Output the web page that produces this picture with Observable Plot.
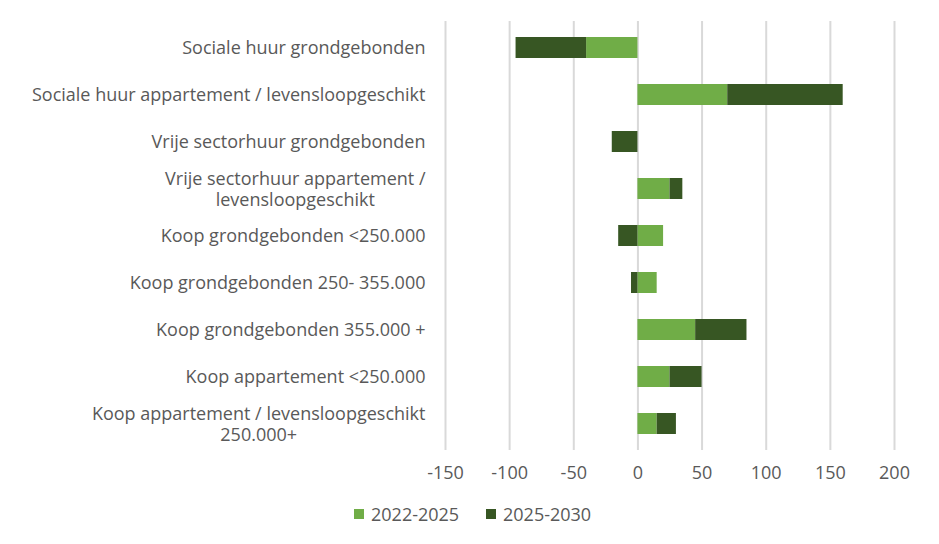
<!DOCTYPE html>
<html>
<head>
<meta charset="utf-8">
<script src="https://cdn.jsdelivr.net/npm/d3@7"></script>
<script src="https://cdn.jsdelivr.net/npm/@observablehq/plot@0.6"></script>
<style>
  html, body { margin: 0; padding: 0; background: #fff; }
  body { width: 939px; height: 544px; position: relative; overflow: hidden; font-family: "Open Sans", sans-serif; }
  #chart { position: absolute; left: 0; top: 0; }
  #legend { position: absolute; left: 0; top: 501px; width: 939px; height: 26px; color: #595959; font-size: 18px; }
  .item { position: absolute; top: 0; display: flex; align-items: center; height: 26px; }
  .sw { width: 10px; height: 10px; margin-right: 7px; }
</style>
</head>
<body>
<div id="chart"></div>
<div id="legend"></div>
<script>
const categories = [
  "Sociale huur grondgebonden",
  "Sociale huur appartement / levensloopgeschikt",
  "Vrije sectorhuur grondgebonden",
  "Vrije sectorhuur appartement /\nlevensloopgeschikt",
  "Koop grondgebonden <250.000",
  "Koop grondgebonden 250- 355.000",
  "Koop grondgebonden 355.000 +",
  "Koop appartement <250.000",
  "Koop appartement / levensloopgeschikt\n250.000+"
];
const series = ["2022-2025", "2025-2030"];
const values2022 = [-40, 70, 0, 25, 20, 15, 45, 25, 15];
const values2025 = [-55, 90, -20, 10, -15, -5, 40, 25, 15];
const xTicks = [-150, -100, -50, 0, 50, 100, 150, 200];
const colors = ["#70AD47", "#375623"];

const data = [];
categories.forEach((c, i) => {
  data.push({category: c, series: series[0], value: values2022[i]});
  data.push({category: c, series: series[1], value: values2025[i]});
});

const chart = Plot.plot({
  width: 939,
  height: 492,
  marginLeft: 445,
  marginRight: 45,
  marginTop: 21,
  marginBottom: 42,
  style: {fontFamily: "Open Sans", fontSize: "18px", color: "#595959", background: "#fff"},
  x: {domain: [-150, 200], label: null},
  y: {domain: categories, paddingInner: 0.55, paddingOuter: 0.275, label: null},
  color: {domain: series, range: colors},
  marks: [
    Plot.ruleX(xTicks, {stroke: "#d9d9d9", strokeWidth: 2}),
    Plot.barX(data, Plot.stackX({y: "category", x: "value", fill: "series"})),
    Plot.axisX({ticks: xTicks, tickSize: 0, tickPadding: 16, tickFormat: d => String(d), fill: "#595959", fontSize: 18, label: null}),
    Plot.axisY({tickSize: 0, tickPadding: 20, lineHeight: 1.12, fill: "#595959", fontSize: 18, label: null})
  ]
});
document.getElementById("chart").appendChild(chart);

// center wrapped category labels like the original
d3.select(chart).selectAll('g[aria-label="y-axis tick label"] text').each(function() {
  const tspans = this.querySelectorAll("tspan");
  if (tspans.length > 1) {
    let maxW = 0;
    tspans.forEach(t => { maxW = Math.max(maxW, t.getComputedTextLength()); });
    this.setAttribute("text-anchor", "middle");
    tspans.forEach(t => t.setAttribute("x", -maxW / 2));
  }
});

const legendPos = [354, 486];
const legend = document.getElementById("legend");
series.forEach((s, i) => {
  const item = document.createElement("div");
  item.className = "item";
  item.style.left = legendPos[i] + "px";
  item.innerHTML = `<div class="sw" style="background:${colors[i]}"></div><span>${s}</span>`;
  legend.appendChild(item);
});
</script>
</body>
</html>
